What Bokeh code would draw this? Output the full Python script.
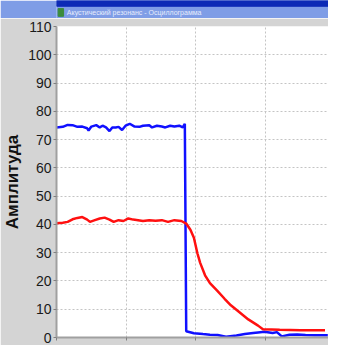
from bokeh.plotting import figure
from bokeh.layouts import column
from bokeh.models import Range1d, FixedTicker
from bokeh.core.properties import value
from bokeh.embed import file_html
from bokeh.resources import INLINE

window_title = "Акустический резонанс - Осциллограмма"
y_label = "Амплитуда"
y_ticks = [0, 10, 20, 30, 40, 50, 60, 70, 80, 90, 100, 110]
x_ticks = [0, 1, 2, 3]

blue_x = [0.00, 0.09, 0.16, 0.23, 0.30, 0.37, 0.44, 0.46, 0.50, 0.57, 0.62, 0.66,
          0.71, 0.76, 0.80, 0.85, 0.89, 0.94, 0.99, 1.05, 1.12, 1.19, 1.24, 1.33,
          1.37, 1.44, 1.51, 1.56, 1.63, 1.69, 1.76, 1.81, 1.84, 1.86, 1.97, 2.10,
          2.20, 2.31, 2.43, 2.58, 2.70, 2.82, 2.89, 2.98, 3.10, 3.16, 3.23, 3.34,
          3.45, 3.57, 3.70, 3.89]
blue_y = [74.3, 74.5, 75.2, 75.1, 74.5, 74.6, 74.0, 73.2, 74.6, 75.1, 74.3, 74.9,
          74.3, 73.0, 74.3, 74.3, 74.5, 73.4, 74.9, 75.6, 74.6, 74.5, 74.9, 75.1,
          74.3, 74.9, 74.6, 74.3, 74.9, 74.6, 74.9, 74.3, 75.6, 2.2, 1.5, 1.2,
          1.0, 0.9, 0.3, 0.7, 1.2, 1.6, 1.8, 2.0, 1.6, 1.9, 0.4, 1.0,
          1.1, 0.9, 0.8, 0.8]
red_x = [0.00, 0.09, 0.16, 0.23, 0.30, 0.37, 0.44, 0.48, 0.55, 0.62, 0.69, 0.76,
         0.82, 0.89, 0.96, 1.03, 1.10, 1.17, 1.24, 1.33, 1.42, 1.51, 1.60, 1.69,
         1.79, 1.86, 1.92, 1.97, 2.02, 2.06, 2.13, 2.20, 2.31, 2.41, 2.50, 2.61,
         2.75, 2.89, 2.96, 3.20, 3.50, 3.85]
red_y = [40.4, 40.6, 40.9, 41.8, 42.3, 42.6, 41.7, 40.9, 41.5, 42.1, 42.4, 41.7,
         40.9, 41.5, 41.2, 42.1, 41.7, 41.5, 41.2, 41.5, 41.3, 41.5, 40.9, 41.5,
         41.2, 40.3, 38.1, 35.3, 29.8, 26.4, 22.0, 19.2, 16.4, 13.7, 11.4, 9.2,
         6.4, 4.2, 2.9, 2.7, 2.6, 2.6]

W = 328
FONT = "Liberation Sans"

# window title bar
bar = figure(width=W, height=18, x_range=Range1d(0, 1), y_range=Range1d(0, 1),
             x_axis_location=None, y_axis_location=None,
             output_backend="svg", toolbar_location=None, min_border=0)
bar.grid.visible = False
bar.outline_line_color = None
bar.background_fill_color = "#7f9de6"
bar.border_fill_color = "#7f9de6"
bar.quad(left=0, right=1, bottom=0.68, top=1, color="#0c2ab6")
bar.quad(left=0.006, right=0.026, bottom=0.12, top=0.55, color="#3c8c3c")
bar.text(x=[0.038], y=[0.34], text=[window_title], text_font_size="7px",
         text_color="#e6ecfc", text_baseline="middle", text_font=value(FONT))

# main plot
p = figure(width=W, height=327, x_range=Range1d(0, 3.9), y_range=Range1d(0, 110),
           output_backend="svg", toolbar_location=None,
           min_border_left=50, min_border_top=8, min_border_right=0, min_border_bottom=8)
p.background_fill_color = "white"
p.border_fill_color = "#d4d4d4"
p.outline_line_color = None

p.line(blue_x, blue_y, line_color="#1010ff", line_width=2.5)
p.line(red_x, red_y, line_color="#ff1010", line_width=2.5)

p.yaxis.ticker = FixedTicker(ticks=y_ticks)
p.xaxis.ticker = FixedTicker(ticks=x_ticks)
p.yaxis.axis_label = y_label
p.yaxis.axis_label_text_font = FONT
p.yaxis.axis_label_text_font_style = "bold"
p.yaxis.axis_label_text_font_size = "17px"
p.yaxis.axis_label_text_color = "#111111"
p.yaxis.axis_label_standoff = 3
p.yaxis.major_label_text_font = FONT
p.yaxis.major_label_text_font_size = "14px"
p.yaxis.major_label_text_color = "#1a1a1a"
p.yaxis.major_label_standoff = 2
p.axis.axis_line_color = "#a0a0a0"
p.axis.axis_line_width = 2
p.axis.major_tick_line_color = "#808080"
p.axis.major_tick_out = 3
p.axis.major_tick_in = 0
p.axis.minor_tick_line_color = None
p.xaxis.major_label_text_font_size = "1px"
p.xaxis.major_label_text_color = None
p.xaxis.major_label_standoff = 0

p.grid.grid_line_color = "#c4c4c4"
p.grid.grid_line_dash = "2 2"
p.grid.grid_line_width = 1

layout = column(bar, p, spacing=0)
open("out.html", "w").write(file_html(layout, INLINE))
